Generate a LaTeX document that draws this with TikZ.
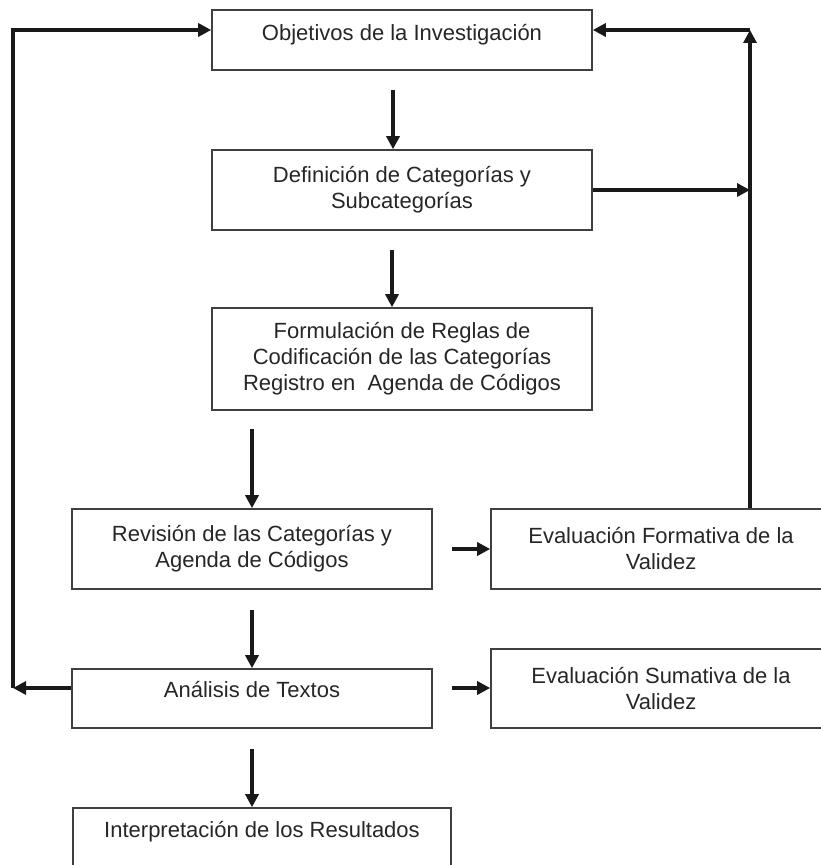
\documentclass[tikz,border=0pt]{standalone}
\usepackage{fontspec}
\setmainfont{Liberation Sans}
\usetikzlibrary{arrows.meta}

\begin{document}
\begin{tikzpicture}[x=0.5pt,y=-0.5pt,
  caja/.style={draw=black!75,line width=0.8pt,align=center,inner sep=2pt,font=\fontsize{11}{13}\selectfont,text=black!85},
  flecha/.style={draw=black!90,line width=2.2pt,-{Triangle[length=6.5pt,width=6.5pt]}}]
\useasboundingbox (0,0) rectangle (820,865);

\node[caja,minimum width=190pt,minimum height=30pt,text height=7.9pt,text depth=7.5pt] (objetivos) at (402,40) {Objetivos de la Investigación};
\node[caja,minimum width=190pt,minimum height=40pt] (definicion) at (402,190) {Definición de Categorías y\\Subcategorías};
\node[caja,minimum width=190pt,minimum height=51pt] (reglas) at (402,359) {Formulación de Reglas de\\Codificación de las Categorías\\Registro en\ \ Agenda de Códigos};
\node[caja,minimum width=180pt,minimum height=40pt] (revision) at (252,549) {Revisión de las Categorías y\\Agenda de Códigos};
\node[caja,minimum width=170pt,minimum height=40pt] (formativa) at (661,549) {Evaluación Formativa de la\\Validez};
\node[caja,minimum width=180pt,minimum height=29.5pt,text height=7.9pt,text depth=8.5pt] (analisis) at (252,698.5) {Análisis de Textos};
\node[caja,minimum width=170pt,minimum height=39.5pt] (sumativa) at (661,688.5) {Evaluación Sumativa de la\\Validez};
\node[caja,minimum width=189pt,minimum height=32pt,text height=7.9pt,text depth=10pt] (interpretacion) at (262,840) {Interpretación de los Resultados};

\coordinate (a12) at (393,90);
\coordinate (a23) at (392,250);
\coordinate (a34) at (252,429);
\coordinate (a46) at (252,610);
\coordinate (a68) at (252,749);
\coordinate (a45) at (452,549);
\coordinate (a67) at (452,688);
\draw[flecha] (a12) -- (a12 |- definicion.north);
\draw[flecha] (a23) -- (a23 |- reglas.north);
\draw[flecha] (a34) -- (a34 |- revision.north);
\draw[flecha] (a46) -- (a46 |- analisis.north);
\draw[flecha] (a68) -- (a68 |- interpretacion.north);
\draw[flecha] (a45) -- (a45 -| formativa.west);
\draw[flecha] (a67) -- (a67 -| sumativa.west);

\coordinate (izqa) at (13,688);
\coordinate (izqb) at (13,30);
\draw[flecha] (izqa -| analisis.west) -- (izqa);
\draw[flecha] (izqa) -- (izqb) -- (izqb -| objetivos.west);

\coordinate (dera) at (750,30);
\coordinate (derb) at (750,190);
\draw[flecha] (dera |- formativa.north) -- (dera);
\draw[flecha] (dera) -- (dera -| objetivos.east);
\draw[flecha] (definicion.east) -- (derb);

\end{tikzpicture}
\end{document}
